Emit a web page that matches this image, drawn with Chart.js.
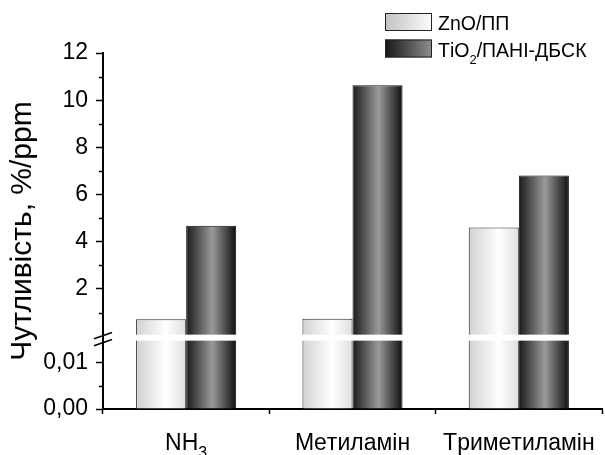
<!DOCTYPE html>
<html>
<head>
<meta charset="utf-8">
<script src="https://cdn.jsdelivr.net/npm/chart.js@4/dist/chart.umd.min.js"></script>
<style>
  html, body { margin: 0; padding: 0; background: #fff; }
  #wrap { position: relative; width: 605px; height: 455px; }
</style>
</head>
<body>
<div id="wrap"><canvas id="c"></canvas></div>
<script>
// Gas categories ("_x" marks a subscript character)
const categories = ['NH_3', 'Метиламін', 'Триметиламін'];
// Sensitivity, %/ppm
const znoValues = [0.72, 0.74, 4.61];
const tio2Values = [4.68, 10.63, 6.81];
const seriesNames = ['ZnO/ПП', 'TiO_2/ПАНІ-ДБСК'];
// Axis ticks: lower segment below the break, upper segment above it
const yMajorTicks = [0, 0.01, 2, 4, 6, 8, 10, 12];
const yMinorTicks = [0.005, 1, 3, 5, 7, 9, 11];

const FONT = "'Liberation Sans', Arial, Helvetica, sans-serif";

// Linear scale with an axis break: [min, from] on the lower part, [to, max] on the upper part
class BrokenLinearScale extends Chart.LinearScale {
  _parts() {
    const b = this.options.axisBreak;
    const span = this.bottom - this.top;
    const low = span * b.lowerShare;
    const gap = b.gapPx;
    return { b, low, gap, up: span - low - gap };
  }
  getPixelForValue(value) {
    const { b, low, gap, up } = this._parts();
    if (value <= b.from) return this.bottom - (value - this.min) / (b.from - this.min) * low;
    if (value >= b.to) return this.bottom - low - gap - (value - b.to) / (this.max - b.to) * up;
    return this.bottom - low - (value - b.from) / (b.to - b.from) * gap;
  }
  getValueForPixel(pixel) {
    const { b, low, gap, up } = this._parts();
    const d = this.bottom - pixel;
    if (d <= low) return this.min + d / low * (b.from - this.min);
    if (d >= low + gap) return b.to + (d - low - gap) / up * (this.max - b.to);
    return b.from + (d - low) / gap * (b.to - b.from);
  }
}
BrokenLinearScale.id = 'brokenLinear';
BrokenLinearScale.defaults = Chart.LinearScale.defaults;
Chart.register(BrokenLinearScale);

// Draw a string where "_c" renders c as a subscript
function drawRich(ctx, text, x, y, size, align) {
  const parts = [];
  for (let i = 0; i < text.length; i++) {
    if (text[i] === '_' && i + 1 < text.length) { parts.push({ t: text[i + 1], sub: true }); i++; }
    else parts.push({ t: text[i], sub: false });
  }
  const subSize = Math.round(size * 0.68);
  const fontOf = p => (p.sub ? subSize : size) + 'px ' + FONT;
  let total = 0;
  parts.forEach(p => { ctx.font = fontOf(p); p.w = ctx.measureText(p.t).width; total += p.w; });
  let cx = align === 'center' ? x - total / 2 : x;
  ctx.textAlign = 'left';
  ctx.textBaseline = 'alphabetic';
  parts.forEach(p => {
    ctx.font = fontOf(p);
    ctx.fillText(p.t, cx, p.sub ? y + size * 0.36 : y);
    cx += p.w;
  });
}

function hGradient(ctx, x0, x1, stops) {
  const g = ctx.createLinearGradient(x0, 0, x1, 0);
  stops.forEach(s => g.addColorStop(s[0], s[1]));
  return g;
}

const barStops = [
  [[0, '#d2d2d2'], [0.6, '#ffffff'], [1, '#dedede']],
  [[0, '#1a1a1a'], [0.52, '#9a9a9a'], [1, '#0e0e0e']]
];
const legendStops = [
  [[0, '#c2c2c2'], [1, '#fbfbfb']],
  [[0, '#161616'], [1, '#8e8e8e']]
];

const decor = {
  id: 'decor',
  beforeDatasetsDraw(chart) {
    const ctx = chart.ctx;
    chart.data.datasets.forEach((ds, di) => {
      chart.getDatasetMeta(di).data.forEach(el => {
        const l = el.x - el.width / 2;
        el.options = Object.assign({}, el.options, {
          backgroundColor: hGradient(ctx, l, l + el.width, barStops[di])
        });
      });
    });
  },
  afterDatasetsDraw(chart) {
    const ctx = chart.ctx;
    const y = chart.scales.y, x = chart.scales.x;
    const b = y.options.axisBreak;
    const gTop = y.getPixelForValue(b.to), gBot = y.getPixelForValue(b.from);
    const ax = chart.chartArea.left;
    ctx.save();
    // white break band across the bars
    ctx.fillStyle = '#fff';
    ctx.fillRect(ax + 1.5, gTop, chart.chartArea.right - ax, gBot - gTop);
    // break marks on the y axis
    ctx.strokeStyle = '#000';
    ctx.lineWidth = 1.6;
    [gTop + 1, gBot + 2].forEach(cy => {
      ctx.beginPath();
      ctx.moveTo(ax - 9, cy + 3.2);
      ctx.lineTo(ax + 9, cy - 3.2);
      ctx.stroke();
    });
    // category labels
    ctx.fillStyle = '#000';
    categories.forEach((c, i) => drawRich(ctx, c, x.getPixelForValue(i), 450, 23, 'center'));
    // legend
    seriesNames.forEach((name, i) => {
      const bx = 385, by = 13 + i * 26.5, bw = 47, bh = 18;
      ctx.fillStyle = hGradient(ctx, bx, bx + bw, legendStops[i]);
      ctx.fillRect(bx, by, bw, bh);
      ctx.strokeStyle = '#222';
      ctx.lineWidth = 1;
      ctx.strokeRect(bx + 0.5, by + 0.5, bw - 1, bh - 1);
      ctx.fillStyle = '#000';
      drawRich(ctx, name, 438, by + 17, 19.5, 'left');
    });
    // minor ticks on the y axis
    ctx.strokeStyle = '#000';
    ctx.lineWidth = 1.5;
    yMinorTicks.forEach(v => {
      const py = Math.round(y.getPixelForValue(v)) + 0.5;
      ctx.beginPath();
      ctx.moveTo(ax - 4, py);
      ctx.lineTo(ax, py);
      ctx.stroke();
    });
    ctx.restore();
  }
};

new Chart(document.getElementById('c'), {
  type: 'bar',
  data: {
    labels: categories,
    datasets: [
      { label: seriesNames[0], data: znoValues, borderColor: '#2a2a2a', borderWidth: 1, backgroundColor: '#eee' },
      { label: seriesNames[1], data: tio2Values, borderColor: '#111', borderWidth: 1, backgroundColor: '#555' }
    ]
  },
  options: {
    responsive: true,
    maintainAspectRatio: false,
    animation: false,
    events: [],
    layout: { padding: { top: 53, right: 3, left: 0, bottom: 0 } },
    datasets: { bar: { categoryPercentage: 0.602, barPercentage: 1 } },
    plugins: { legend: { display: false }, tooltip: { enabled: false } },
    scales: {
      x: {
        type: 'category',
        afterFit: s => { s.height = 46; },
        grid: { offset: true, drawOnChartArea: false, drawTicks: true, tickLength: 5, color: '#000', tickWidth: 1.5 },
        border: { display: true, color: '#000', width: 2 },
        ticks: { display: false }
      },
      y: {
        type: 'brokenLinear',
        min: 0,
        max: 12,
        axisBreak: { from: 0.0147, to: 0.064, lowerShare: 0.192, gapPx: 6 },
        afterFit: s => { s.width = 103; },
        afterBuildTicks: s => { s.ticks = yMajorTicks.map(value => ({ value })); },
        grid: { drawOnChartArea: false, drawTicks: true, tickLength: 7, color: '#000', tickWidth: 1.5 },
        border: { display: true, color: '#000', width: 2 },
        ticks: {
          autoSkip: false,
          padding: 8,
          color: '#000',
          font: { family: FONT, size: 23 },
          callback: v => (v < 1 ? v.toFixed(2).replace('.', ',') : String(v))
        },
        title: {
          display: true,
          text: 'Чутливість, %/ppm',
          color: '#000',
          font: { family: FONT, size: 30, lineHeight: 1.2 },
          padding: { top: 5, bottom: 0 }
        }
      }
    }
  },
  plugins: [decor]
});
</script>
</body>
</html>
